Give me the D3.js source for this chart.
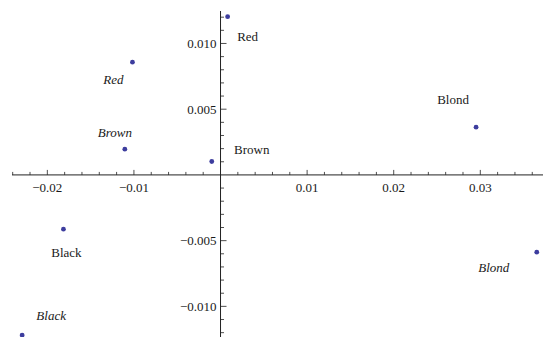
<!DOCTYPE html>
<html lang="en">
    <head>
        <meta charset="utf-8">
        <title>Hair colour map</title>
        <script src="https://d3js.org/d3.v7.min.js"></script>
        <style type="text/css">
            body { margin: 0; background: #fff; }
            text {
                font-size: 13px;
                font-family: "Liberation Serif", "Times New Roman", Times, serif;
                fill: #1a1a1a;
            }
        </style>
    </head>
    <body>
        <script type="text/javascript">

            //Data - two sets of points (upright labels and italic labels)
            const categories = ["Black", "Brown", "Red", "Blond"];
            const uprightX = [-0.01814, -0.00101, 0.00082, 0.02951];
            const uprightY = [-0.00413, 0.00102, 0.01204, 0.00363];
            const italicX = [-0.02291, -0.01105, -0.01017, 0.03652];
            const italicY = [-0.01218, 0.00196, 0.00858, -0.00588];

            const xTicks = [-0.02, -0.01, 0.01, 0.02, 0.03];
            const yTicks = [-0.010, -0.005, 0.005, 0.010];

            //label offsets in px (layout only)
            const uprightOffsets = [[3, 23], [40, -12], [20, 20], [-23, -28]];
            const italicOffsets = [[29, -20], [-10, -17], [-19, 17], [-43, 15]];

            const w = 543;
            const h = 337;

            const x = d3.scaleLinear()
                        .domain([-0.02408, 0.03724])
                        .range([12, 543]);
            const y = d3.scaleLinear()
                        .domain([0.01247, -0.01233])
                        .range([11, 337]);

            const svg = d3.select("body")
                    .append("svg")
                    .attr("width", w)
                    .attr("height", h);

            const axisColor = "#222";
            const x0 = x(0), y0 = y(0);

            //axes lines
            svg.append("line")
               .attr("x1", x.range()[0]).attr("x2", x.range()[1])
               .attr("y1", y0).attr("y2", y0)
               .attr("stroke", axisColor).attr("stroke-width", 1);
            svg.append("line")
               .attr("x1", x0).attr("x2", x0)
               .attr("y1", y.range()[0]).attr("y2", y.range()[1])
               .attr("stroke", axisColor).attr("stroke-width", 1);

            //minor + major ticks on x
            const xMinor = d3.range(-0.024, 0.0372, 0.002).filter(v => Math.abs(v) > 1e-9);
            svg.selectAll("line.xtick")
               .data(xMinor)
               .enter()
               .append("line")
               .attr("class", "xtick")
               .attr("x1", d => x(d)).attr("x2", d => x(d))
               .attr("y1", y0)
               .attr("y2", d => y0 - (Math.abs(Math.round(d * 1000) % 10) === 0 ? 5 : 3))
               .attr("stroke", axisColor).attr("stroke-width", 0.8);

            //minor + major ticks on y
            const yMinor = d3.range(-0.012, 0.0125, 0.001).filter(v => Math.abs(v) > 1e-9);
            svg.selectAll("line.ytick")
               .data(yMinor)
               .enter()
               .append("line")
               .attr("class", "ytick")
               .attr("y1", d => y(d)).attr("y2", d => y(d))
               .attr("x1", x0)
               .attr("x2", d => x0 + (Math.abs(Math.round(d * 1000) % 5) === 0 ? 6 : 3.5))
               .attr("stroke", axisColor).attr("stroke-width", 0.8);

            //tick labels
            svg.selectAll("text.xlab")
               .data(xTicks)
               .enter()
               .append("text")
               .attr("class", "xlab")
               .attr("x", d => x(d))
               .attr("y", y0 + 17)
               .attr("text-anchor", "middle")
               .text(d => d3.format(".2f")(d));

            svg.selectAll("text.ylab")
               .data(yTicks)
               .enter()
               .append("text")
               .attr("class", "ylab")
               .attr("x", x0 - 4)
               .attr("y", d => y(d) + 4.5)
               .attr("text-anchor", "end")
               .text(d => d3.format(".3f")(d));

            //build point table
            const points = categories.map((c, i) => ({name: c, x: uprightX[i], y: uprightY[i], italic: false, off: uprightOffsets[i]}))
                 .concat(categories.map((c, i) => ({name: c, x: italicX[i], y: italicY[i], italic: true, off: italicOffsets[i]})));

            svg.selectAll("circle.pt")
               .data(points)
               .enter()
               .append("circle")
               .attr("class", "pt")
               .attr("cx", d => x(d.x))
               .attr("cy", d => y(d.y))
               .attr("r", 2.4)
               .attr("fill", "#3d3d9e");

            svg.selectAll("text.pl")
               .data(points)
               .enter()
               .append("text")
               .attr("class", "pl")
               .attr("x", d => x(d.x) + d.off[0])
               .attr("y", d => y(d.y) + d.off[1] + 4.5)
               .attr("text-anchor", "middle")
               .style("font-style", d => d.italic ? "italic" : "normal")
               .text(d => d.name);

        </script>
    </body>
</html>
